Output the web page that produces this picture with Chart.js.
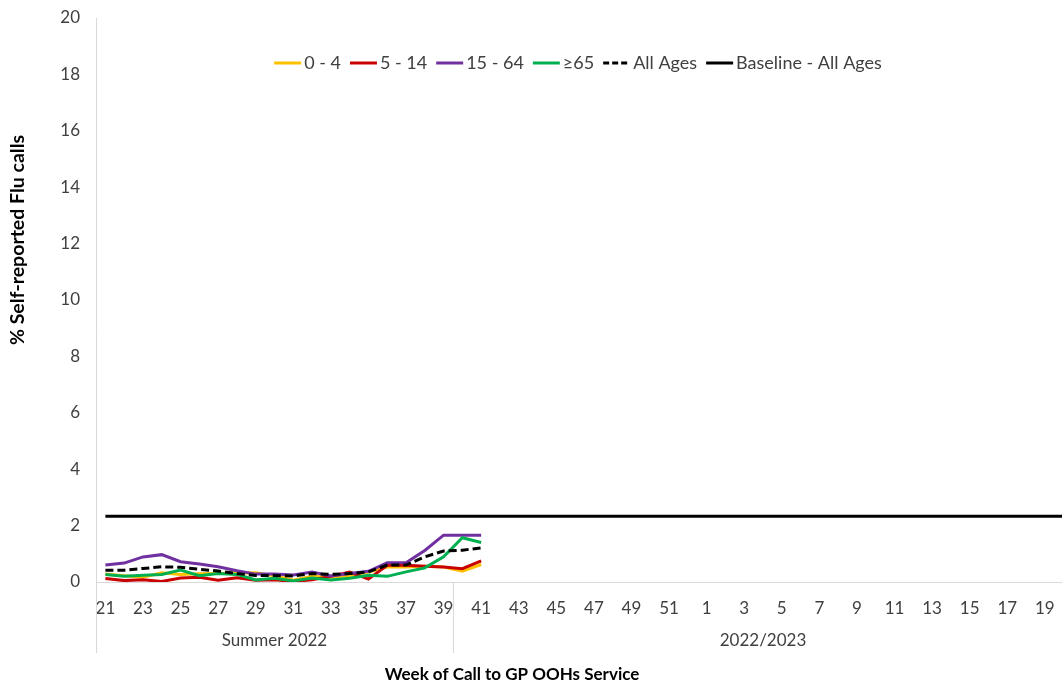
<!DOCTYPE html>
<html>
<head>
<meta charset="utf-8">
<script src="https://cdn.jsdelivr.net/npm/chart.js@4/dist/chart.umd.min.js"></script>
<style>
  html, body { margin: 0; padding: 0; background: #ffffff; overflow: hidden; }
  #wrap { width: 1075px; height: 685px; }
  canvas { display: block; }
</style>
</head>
<body>
<div id="wrap"><canvas id="c" width="1075" height="685" style="width:1075px;height:685px"></canvas></div>
<script>
// ---- Data ----
const weeks = ['21','22','23','24','25','26','27','28','29','30','31','32','33','34','35','36','37','38','39','40',
               '41','42','43','44','45','46','47','48','49','50','51','52','1','2','3','4','5','6','7','8',
               '9','10','11','12','13','14','15','16','17','18','19','20'];
const groupLabels = ['Summer 2022', '2022/2023'];
const groupStartWeeks = ['21', '40'];
const yTicks = [0, 2, 4, 6, 8, 10, 12, 14, 16, 18, 20];

const age0to4   = [0.28, 0.22, 0.17, 0.33, 0.27, 0.29, 0.30, 0.32, 0.33, 0.22, 0.06, 0.20, 0.17, 0.23, 0.35, 0.53, 0.53, 0.56, 0.53, 0.38, 0.62];
const age5to14  = [0.12, 0.05, 0.08, 0.02, 0.14, 0.17, 0.06, 0.15, 0.06, 0.08, 0.02, 0.08, 0.20, 0.35, 0.10, 0.59, 0.59, 0.56, 0.53, 0.47, 0.75];
const age15to64 = [0.60, 0.67, 0.89, 0.97, 0.72, 0.64, 0.54, 0.40, 0.28, 0.28, 0.25, 0.35, 0.21, 0.30, 0.38, 0.68, 0.68, 1.12, 1.66, 1.66, 1.66];
const age65plus = [0.27, 0.20, 0.24, 0.27, 0.42, 0.22, 0.30, 0.27, 0.07, 0.13, 0.04, 0.14, 0.07, 0.13, 0.24, 0.20, 0.36, 0.50, 0.89, 1.57, 1.40];
const allAges   = [0.42, 0.42, 0.48, 0.54, 0.52, 0.45, 0.39, 0.30, 0.23, 0.23, 0.21, 0.30, 0.27, 0.30, 0.36, 0.60, 0.60, 0.89, 1.10, 1.13, 1.21];
const baseline  = [2.33, 2.33, 2.33, 2.33, 2.33, 2.33, 2.33, 2.33, 2.33, 2.33, 2.33, 2.33, 2.33, 2.33, 2.33, 2.33, 2.33, 2.33, 2.33, 2.33,
                   2.33, 2.33, 2.33, 2.33, 2.33, 2.33, 2.33, 2.33, 2.33, 2.33, 2.33, 2.33, 2.33, 2.33, 2.33, 2.33, 2.33, 2.33, 2.33, 2.33,
                   2.33, 2.33, 2.33, 2.33, 2.33, 2.33, 2.33, 2.33, 2.33, 2.33, 2.33, 2.33];

const FONT = 'Lato, "Open Sans", sans-serif';
const TXT = '#404040';

function pad(arr) { // extend to full axis length with gaps (no data yet)
  const out = arr.slice();
  while (out.length < weeks.length) out.push(null);
  return out;
}

const datasets = [
  { label: '0 - 4', data: pad(age0to4), borderColor: '#FFC000', borderWidth: 3, order: 5 },
  { label: '5 - 14', data: pad(age5to14), borderColor: '#C80000', borderWidth: 3, order: 4 },
  { label: '15 - 64', data: pad(age15to64), borderColor: '#7030A0', borderWidth: 3, order: 3 },
  { label: '\u226565', data: pad(age65plus), borderColor: '#00B050', borderWidth: 3, order: 2 },
  { label: 'All Ages', data: pad(allAges), borderColor: '#000000', borderWidth: 3, borderDash: [8, 4], order: 1 },
  { label: 'Baseline - All Ages', data: baseline, borderColor: '#000000', borderWidth: 3, order: 0 }
].map(d => Object.assign({ pointRadius: 0, pointHoverRadius: 0, tension: 0, fill: false, spanGaps: false, backgroundColor: d.borderColor }, d));

function isLeft(b, x) { return Math.abs(b - x.left) < 0.01; }

const annot = {
  id: 'annot',
  afterDraw(chart) {
    const { ctx, scales: { x, y } } = chart;
    const axisY = Math.round(y.getPixelForValue(0)) + 0.5;
    const extBottom = 653;
    ctx.save();
    // y axis line + group separators (extended category lines)
    ctx.strokeStyle = '#d9d9d9';
    ctx.lineWidth = 1;
    const bounds = groupStartWeeks.map(w => {
      const i = weeks.indexOf(w);
      if (i === 0) return x.left;
      return (x.getPixelForValue(i) + x.getPixelForValue(i - 1)) / 2;
    });
    bounds.forEach(b => {
      const px = Math.round(b) + 0.5;
      ctx.beginPath();
      ctx.moveTo(px, isLeft(b, x) ? y.top : axisY);
      ctx.lineTo(px, extBottom);
      ctx.stroke();
    });
    // group labels
    ctx.fillStyle = TXT;
    ctx.font = '17px ' + FONT;
    ctx.textAlign = 'center';
    ctx.textBaseline = 'middle';
    groupLabels.forEach((g, k) => {
      const a = bounds[k];
      const b = k + 1 < bounds.length ? bounds[k + 1] : x.right;
      ctx.fillText(g, (a + b) / 2, 641);
    });
    // axis titles
    ctx.fillStyle = '#000000';
    ctx.font = 'bold 17px ' + FONT;
    ctx.fillText('Week of Call to GP OOHs Service', 512, 675);
    ctx.save();
    ctx.font = 'bold 19.5px ' + FONT;
    ctx.translate(18, 240);
    ctx.rotate(-Math.PI / 2);
    ctx.fillText('% Self-reported Flu calls', 0, 0);
    ctx.restore();
    // legend
    ctx.font = '18px ' + FONT;
    ctx.textAlign = 'left';
    const sample = 27, gapText = 3, gapItem = 9;
    const items = chart.data.datasets.map(d => ({ text: d.label, color: d.borderColor, dash: d.borderDash || [] }));
    let total = 0;
    items.forEach((it, k) => {
      it.w = ctx.measureText(it.text).width;
      total += sample + gapText + it.w + (k ? gapItem : 0);
    });
    let cx = 578 - total / 2;
    const ly = 63;
    items.forEach((it, k) => {
      if (k) cx += gapItem;
      ctx.strokeStyle = it.color;
      ctx.lineWidth = 3;
      ctx.setLineDash(it.dash.length ? [6, 3] : []);
      ctx.beginPath();
      ctx.moveTo(cx, ly);
      ctx.lineTo(cx + sample, ly);
      ctx.stroke();
      ctx.setLineDash([]);
      cx += sample + gapText;
      ctx.fillStyle = TXT;
      ctx.fillText(it.text, cx, ly);
      cx += it.w;
    });
    ctx.restore();
  }
};

new Chart(document.getElementById('c'), {
  type: 'line',
  data: { labels: weeks, datasets },
  options: {
    responsive: false,
    devicePixelRatio: 1,
    animation: false,
    events: [],
    layout: { padding: { left: 0, right: 2, top: 18, bottom: 0 } },
    plugins: { legend: { display: false }, tooltip: { enabled: false }, title: { display: false } },
    scales: {
      x: {
        type: 'category',
        offset: true,
        grid: { display: false, drawTicks: false },
        border: { display: true, color: '#d9d9d9', width: 1 },
        ticks: {
          autoSkip: false,
          maxRotation: 0,
          minRotation: 0,
          padding: 16,
          color: TXT,
          font: { family: FONT, size: 17 },
          callback: function (val, idx) { return idx % 2 === 0 ? this.getLabelForValue(val) : ''; }
        },
        afterFit(scale) { scale.height = 103; scale.paddingLeft = 0; scale.paddingRight = 0; }
      },
      y: {
        min: 0,
        max: 20,
        grid: { display: false, drawTicks: false },
        border: { display: false },
        afterBuildTicks(scale) { scale.ticks = yTicks.map(v => ({ value: v })); },
        ticks: { padding: 16, color: TXT, font: { family: FONT, size: 17 } },
        afterFit(scale) { scale.width = 96; scale.paddingTop = 0; scale.paddingBottom = 0; }
      }
    }
  },
  plugins: [annot]
});
</script>
</body>
</html>
